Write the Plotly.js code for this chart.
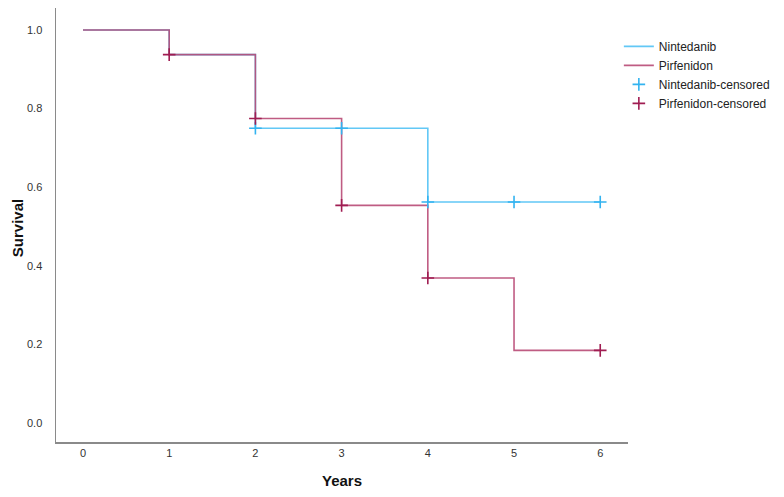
<!DOCTYPE html>
<html>
<head>
<meta charset="utf-8">
<script src="https://cdn.plot.ly/plotly-3.0.1.min.js"></script>
<style>
  html, body { margin: 0; padding: 0; background: #fff; }
  #chart { width: 784px; height: 497px; }
</style>
</head>
<body>
<div id="chart"></div>
<script>
// Kaplan-Meier step curves (time in years, cumulative survival)
const nintedanibTimes = [0, 1, 2, 4, 6];
const nintedanibSurvival = [1.0, 0.9375, 0.75, 0.5625, 0.5625];
const pirfenidonTimes = [0, 1, 2, 3, 4, 5, 6];
const pirfenidonSurvival = [1.0, 0.9375, 0.775, 0.554, 0.369, 0.185, 0.185];

// Censored observations
const nintedanibCensoredTimes = [2, 3, 4, 5, 6];
const nintedanibCensoredSurvival = [0.75, 0.75, 0.5625, 0.5625, 0.5625];
const pirfenidonCensoredTimes = [1, 2, 3, 4, 6];
const pirfenidonCensoredSurvival = [0.9375, 0.775, 0.554, 0.369, 0.185];

const xTicks = [0, 1, 2, 3, 4, 5, 6];
const yTicks = [0.0, 0.2, 0.4, 0.6, 0.8, 1.0];
const yTickText = ['0.0', '0.2', '0.4', '0.6', '0.8', '1.0'];

const blueLine = '#62c8f6';
const blueMark = '#33b3f0';
const redLine = '#b84a76';
const redMark = '#a01d52';

const traces = [
  {
    name: 'Nintedanib', x: nintedanibTimes, y: nintedanibSurvival,
    type: 'scatter', mode: 'lines', line: { shape: 'hv', color: blueLine, width: 1.6 }
  },
  {
    name: 'Pirfenidon', x: pirfenidonTimes, y: pirfenidonSurvival,
    type: 'scatter', mode: 'lines', opacity: 0.9,
    line: { shape: 'hv', color: redLine, width: 1.6 }
  },
  {
    name: 'Nintedanib-censored', x: nintedanibCensoredTimes, y: nintedanibCensoredSurvival,
    type: 'scatter', mode: 'markers',
    marker: { symbol: 'cross-thin', size: 9, line: { color: blueMark, width: 1.6 } }
  },
  {
    name: 'Pirfenidon-censored', x: pirfenidonCensoredTimes, y: pirfenidonCensoredSurvival,
    type: 'scatter', mode: 'markers',
    marker: { symbol: 'cross-thin', size: 9, line: { color: redMark, width: 1.6 } }
  }
];

const layout = {
  width: 784, height: 497,
  margin: { l: 56, r: 156, t: 8, b: 55, autoexpand: false },
  paper_bgcolor: '#ffffff', plot_bgcolor: '#ffffff',
  font: { family: 'Liberation Sans, Arial, sans-serif', color: '#333' },
  showlegend: true,
  legend: {
    x: 0.984, y: 0.945, xanchor: 'left', yanchor: 'top',
    font: { size: 12, color: '#222' },
    bgcolor: 'rgba(0,0,0,0)', tracegroupgap: 0
  },
  xaxis: {
    range: [-0.313, 6.322],
    tickvals: xTicks, ticktext: xTicks.map(String),
    ticks: '', showgrid: false, zeroline: false,
    showline: true, linecolor: '#8a8a8a', linewidth: 1.5,
    tickfont: { size: 11, color: '#333' },
    ticklabelstandoff: 0,
    title: { text: '<b>Years</b>', font: { size: 15, color: '#111' }, standoff: 18 }
  },
  yaxis: {
    range: [-0.048, 1.056],
    tickvals: yTicks, ticktext: yTickText,
    ticks: '', showgrid: false, zeroline: false,
    showline: true, linecolor: '#8a8a8a', linewidth: 1.5,
    tickfont: { size: 11, color: '#333' },
    ticklabelstandoff: 10
  },
  annotations: [
    {
      text: '<b>Survival</b>', textangle: -90,
      xref: 'paper', yref: 'paper', x: -0.068, y: 0.493,
      xanchor: 'center', yanchor: 'middle', showarrow: false,
      font: { size: 15, color: '#111' }
    }
  ]
};

Plotly.newPlot('chart', traces, layout, { displayModeBar: false, staticPlot: true });
</script>
</body>
</html>
